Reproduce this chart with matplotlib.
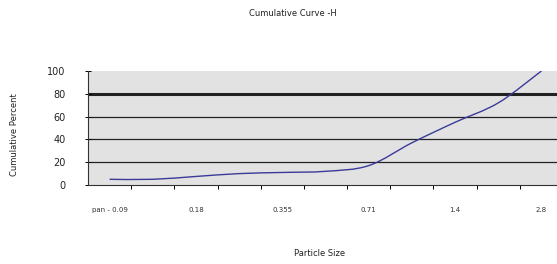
import matplotlib
matplotlib.use('Agg')

import matplotlib.pyplot as plt
from matplotlib.path import Path
import matplotlib.patches as mpatches

# ─── Data ─────────────────────────────────────────────────────────────────────
sizes = ['pan - 0.09', '0.125', '0.18', '0.25', '0.355', '0.5',
         '0.71', '1.0', '1.4', '2.0', '2.8']
cum_percent = [5, 5, 7.5, 10, 11, 12, 17, 37, 55, 72, 100]
y_ticks = [0, 20, 40, 60, 80, 100]


def smooth_path(xs, ys, tension=1 / 6):
    # Bezier path through the points (Excel-style "smoothed line")
    verts = [(xs[0], ys[0])]
    codes = [Path.MOVETO]
    n = len(xs)
    for i in range(n - 1):
        x0, y0 = (xs[i - 1], ys[i - 1]) if i > 0 else (xs[i], ys[i])
        x1, y1 = xs[i], ys[i]
        x2, y2 = xs[i + 1], ys[i + 1]
        x3, y3 = (xs[i + 2], ys[i + 2]) if i + 2 < n else (x2, y2)
        c1 = (x1 + (x2 - x0) * tension, y1 + (y2 - y0) * tension)
        c2 = (x2 - (x3 - x1) * tension, y2 - (y3 - y1) * tension)
        verts += [c1, c2, (x2, y2)]
        codes += [Path.CURVE4] * 3
    return Path(verts, codes)


fig = plt.figure(figsize=(5.57, 2.64), dpi=100, facecolor='white')
ax = fig.add_axes([88 / 557, 1 - 185 / 264, 475 / 557, 114 / 264])
ax.set_facecolor('#e2e2e2')

x = list(range(len(sizes)))
ax.set_xlim(-0.5, len(sizes) - 0.5)
ax.set_ylim(0, 100)

# gridlines
for yv in y_ticks[1:-1]:
    ax.axhline(yv, color='#222222', lw=0.9 if yv != 80 else 2.2, zorder=1)

line = mpatches.PathPatch(smooth_path(x, cum_percent), facecolor='none',
                          edgecolor='#3a3a9a', lw=1.0, zorder=3)
ax.add_patch(line)

# axes styling
for side in ('top', 'right'):
    ax.spines[side].set_visible(False)
ax.spines['left'].set_color('#333333')
ax.spines['bottom'].set_color('#333333')
ax.spines['left'].set_linewidth(0.8)
ax.spines['bottom'].set_linewidth(0.8)

ax.set_yticks(y_ticks)
ax.set_yticklabels([str(v) for v in y_ticks], fontsize=7, color='#222222')
ax.tick_params(axis='y', direction='inout', length=4, width=0.7, pad=14)

ax.set_xticks([i + 0.5 for i in x[:-1]], minor=False)
ax.set_xticklabels([])
ax.tick_params(axis='x', direction='out', length=3, width=0.7)
ax.set_xticks(x[::2], minor=True)
ax.set_xticklabels(sizes[::2], minor=True, fontsize=5, color='#333333')
ax.tick_params(axis='x', which='minor', length=0, pad=16)

fig.text(15 / 557, 1 - 135 / 264, 'Cumulative Percent', fontsize=6,
         color='#222222', rotation=90, ha='center', va='center')
fig.text(320 / 557, 1 - 254 / 264, 'Particle Size', fontsize=6,
         color='#222222', ha='center', va='center')
fig.text(293 / 557, 1 - 14 / 264, 'Cumulative Curve -H', fontsize=6,
         color='#222222', ha='center', va='center')

fig.savefig('out.png', dpi=100, facecolor='white')
